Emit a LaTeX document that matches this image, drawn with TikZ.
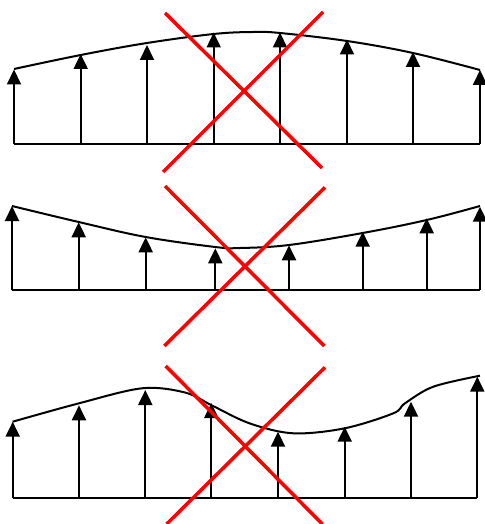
\documentclass[tikz,border=0pt]{standalone}
\usetikzlibrary{arrows.meta}
\begin{document}
\begin{tikzpicture}[x=1pt,y=-1pt,
  force/.style={line width=2pt,-{Triangle[width=14pt 0 0,length=15pt 0 0]}},
  profile/.style={line width=2pt},
  cross/.style={red,line width=3.5pt}]
\useasboundingbox (0,0) rectangle (484,524);
% ---------- panel 1 ----------
\foreach \i/\x/\t in {1/14/69.5,2/80.7/54,3/147/45,4/213.7/32.5,5/280/32.5,6/347/39.5,7/413/52,8/480/70}{
  \coordinate (pa-b\i) at (\x,144);
  \coordinate (pa-t\i) at (\x,\t);
  \draw[force] (pa-b\i) -- (pa-t\i);
}
\draw[profile] (pa-b1) -- (pa-b8);
\draw[profile] plot[smooth,tension=0.6] coordinates {(14,69) (80.7,55) (147,43) (213.7,34) (253,32) (280,33) (347,41) (413,53) (480,70)};
\coordinate (xa1) at (165,13);   \coordinate (xa2) at (322,168);
\coordinate (xa3) at (323,12);   \coordinate (xa4) at (163,172);
\draw[cross] (xa1) -- (xa2);
\draw[cross] (xa3) -- (xa4);
% ---------- panel 2 ----------
\foreach \i/\x/\t in {1/12/206,2/78.7/222.3,3/145.7/237.3,4/215.3/248.3,5/289/245.3,6/362.7/231.7,7/426.7/218.3,8/480/206.7}{
  \coordinate (pb-b\i) at (\x,290);
  \coordinate (pb-t\i) at (\x,\t);
  \draw[force] (pb-b\i) -- (pb-t\i);
}
\draw[profile] (pb-b1) -- (pb-b8);
\draw[profile] plot[smooth,tension=0.6] coordinates {(12,206) (78.7,222) (145.7,237) (215.3,247) (240,248) (289,245) (362.7,233) (426.7,220) (480,206)};
\coordinate (xb1) at (165,186);  \coordinate (xb2) at (324.3,346);
\coordinate (xb3) at (325,187.3);\coordinate (xb4) at (164.3,346);
\draw[cross] (xb1) -- (xb2);
\draw[cross] (xb3) -- (xb4);
% ---------- panel 3 ----------
\foreach \i/\x/\t in {1/12.7/421.7,2/79/405.3,3/145.3/390,4/211.3/403,5/278/431.7,6/344.7/426.7,7/411/401.7,8/477.3/376.7}{
  \coordinate (pc-b\i) at (\x,498.3);
  \coordinate (pc-t\i) at (\x,\t);
  \draw[force] (pc-b\i) -- (pc-t\i);
}
\draw[profile] (pc-b1) -- (pc-b8);
\draw[profile] plot[smooth,tension=0.55] coordinates {(12.7,421.7) (79,403.3) (142,388.3) (185,392.5) (213,406) (250,423.5) (293.3,433.3) (344.7,428.3) (393.3,413.3) (405,403.3) (433.3,386.7) (480,375.7)};
\coordinate (xc1) at (165.7,366);  \coordinate (xc2) at (322.3,524);
\coordinate (xc3) at (325,367.3);  \coordinate (xc4) at (166.7,524);
\draw[cross] (xc1) -- (xc2);
\draw[cross] (xc3) -- (xc4);
\end{tikzpicture}
\end{document}
